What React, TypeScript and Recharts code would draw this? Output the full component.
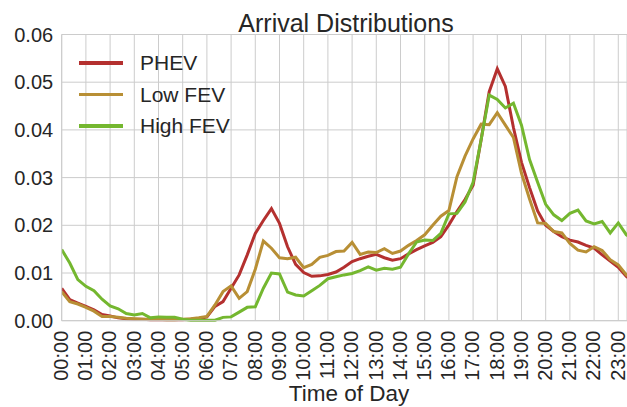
import { LineChart, Line, XAxis, YAxis, CartesianGrid } from "recharts";

// one value every 20 minutes, 00:00 .. 23:40
const phev = [
  0.0068, 0.0044, 0.0037, 0.003, 0.0023, 0.0013, 0.001, 0.0006, 0.0004, 0.0003, 0.0003, 0.0002,
  0.0002, 0.0002, 0.0002, 0.0002, 0.0003, 0.0004, 0.0008, 0.003, 0.004, 0.0068, 0.0096, 0.0138,
  0.0183, 0.021, 0.0235, 0.0204, 0.0155, 0.0118, 0.0101, 0.0093, 0.0094, 0.0097, 0.0102, 0.0112,
  0.0124, 0.013, 0.0135, 0.0139, 0.0132, 0.0127, 0.013, 0.014, 0.0149, 0.0157, 0.0164, 0.0176,
  0.0201, 0.0229, 0.0254, 0.0284, 0.038, 0.048, 0.0528, 0.0491, 0.0405, 0.0332, 0.0279, 0.023,
  0.02, 0.0187, 0.0176, 0.0169, 0.0165, 0.0158, 0.0152, 0.0138, 0.0125, 0.0112, 0.0093, 0.008,
];

const lowFev = [
  0.0061, 0.004, 0.0035, 0.0028, 0.002, 0.0009, 0.0009, 0.0007, 0.0005, 0.0004, 0.0003, 0.0003,
  0.0003, 0.0002, 0.0002, 0.0003, 0.0004, 0.0006, 0.0009, 0.0033, 0.0061, 0.0073, 0.0047, 0.0061,
  0.0108, 0.0167, 0.0152, 0.0132, 0.013, 0.0133, 0.0111, 0.0118, 0.0133, 0.0137, 0.0145, 0.0146,
  0.0164, 0.0139, 0.0144, 0.0143, 0.0151, 0.0141, 0.0146, 0.0158, 0.0168, 0.018, 0.02, 0.0219,
  0.0231, 0.0302, 0.0345, 0.0381, 0.0412, 0.0411, 0.0436, 0.041, 0.0384, 0.0309, 0.0255, 0.0205,
  0.0204, 0.0187, 0.0184, 0.0162, 0.0148, 0.0144, 0.0155, 0.0147, 0.0128, 0.0117, 0.0096, 0.0085,
];

const highFev = [
  0.0149, 0.0121, 0.0086, 0.0072, 0.0063, 0.0045, 0.0031, 0.0025, 0.0015, 0.0012, 0.0015, 0.0006,
  0.0008, 0.0007, 0.0007, 0.0003, 0.0001, 0.0001, 0.0001, 0.0001, 0.0007, 0.0008, 0.0018, 0.0028,
  0.0029, 0.0068, 0.01, 0.0098, 0.006, 0.0054, 0.0052, 0.0063, 0.0074, 0.0088, 0.0092, 0.0096,
  0.0099, 0.0105, 0.0113, 0.0106, 0.011, 0.0108, 0.0112, 0.014, 0.0165, 0.0169, 0.0168, 0.0183,
  0.0224, 0.0225, 0.0249, 0.029, 0.038, 0.0473, 0.0464, 0.0446, 0.0456, 0.041, 0.0338, 0.029,
  0.0244, 0.0222, 0.021, 0.0225, 0.0232, 0.0209, 0.0203, 0.0208, 0.0184, 0.0205, 0.018, 0.017,
];

const hourLabels = [
  "00:00", "01:00", "02:00", "03:00", "04:00", "05:00", "06:00", "07:00",
  "08:00", "09:00", "10:00", "11:00", "12:00", "13:00", "14:00", "15:00",
  "16:00", "17:00", "18:00", "19:00", "20:00", "21:00", "22:00", "23:00",
];

const yTicks = [0, 0.01, 0.02, 0.03, 0.04, 0.05, 0.06];

const series = [
  { key: "phev", name: "PHEV", color: "#b4302f" },
  { key: "lowFev", name: "Low FEV", color: "#b88f35" },
  { key: "highFev", name: "High FEV", color: "#74b72f" },
];

const SLOTS_PER_HOUR = 3;
const xTicks = hourLabels.map((_, h) => h * SLOTS_PER_HOUR);

const data = phev.map((v, i) => ({
  slot: i,
  phev: v,
  lowFev: lowFev[i],
  highFev: highFev[i],
}));

const FONT = "'Liberation Sans', Arial, sans-serif";
const TEXT = "#262626";
const GRID = "#cccccc";

function XTick(props: any) {
  const { x, y, payload } = props;
  const label = hourLabels[Math.round(payload.value / SLOTS_PER_HOUR)];
  return (
    <text
      x={x}
      y={y + 10}
      transform={`rotate(-90, ${x}, ${y + 10})`}
      textAnchor="end"
      dy="0.32em"
      fontSize={20}
      fontFamily={FONT}
      fill={TEXT}
    >
      {label}
    </text>
  );
}

export default function App() {
  return (
    <div
      style={{
        position: "absolute",
        left: 0,
        top: 0,
        width: 627,
        height: 407,
        overflow: "hidden",
        background: "#fff",
        fontFamily: FONT,
        color: TEXT,
      }}
    >
      <LineChart
        width={627}
        height={407}
        data={data}
        margin={{ top: 34.5, right: 0, bottom: 0, left: 0 }}
      >
        <CartesianGrid stroke={GRID} strokeWidth={1} />
        <XAxis
          dataKey="slot"
          type="number"
          domain={[0, 70.08]}
          allowDataOverflow
          ticks={xTicks}
          interval={0}
          height={86.3}
          tickSize={0}
          tickMargin={0}
          tickLine={false}
          axisLine={{ stroke: GRID }}
          tick={<XTick />}
        />
        <YAxis
          type="number"
          domain={[0, 0.06]}
          ticks={yTicks}
          width={61.7}
          tickSize={0}
          tickMargin={8.5}
          tickLine={false}
          axisLine={{ stroke: GRID }}
          tickFormatter={(v: number) => v.toFixed(2)}
          tick={{ fontSize: 20, fontFamily: FONT, fill: TEXT }}
        />
        {series.map((s) => (
          <Line
            key={s.key}
            type="linear"
            dataKey={s.key}
            name={s.name}
            stroke={s.color}
            strokeWidth={3}
            dot={false}
            isAnimationActive={false}
          />
        ))}
      </LineChart>

      <div
        style={{
          position: "absolute",
          top: 10.5,
          left: 226,
          width: 240,
          textAlign: "center",
          fontSize: 25,
          lineHeight: "25px",
          whiteSpace: "nowrap",
        }}
      >
        Arrival Distributions
      </div>

      <div
        style={{
          position: "absolute",
          top: 382.6,
          left: 249,
          width: 200,
          textAlign: "center",
          fontSize: 22.5,
          lineHeight: "22.5px",
          whiteSpace: "nowrap",
        }}
      >
        Time of Day
      </div>

      <div style={{ position: "absolute", top: 52, left: 79 }}>
        {series.map((s) => (
          <div
            key={s.key}
            style={{
              display: "flex",
              alignItems: "center",
              height: 22,
              marginBottom: 9.5,
              fontSize: 21,
              lineHeight: "22px",
            }}
          >
            <span
              style={{
                display: "inline-block",
                width: 44,
                height: 3.5,
                background: s.color,
                marginRight: 17,
              }}
            />
            {s.name}
          </div>
        ))}
      </div>
    </div>
  );
}
